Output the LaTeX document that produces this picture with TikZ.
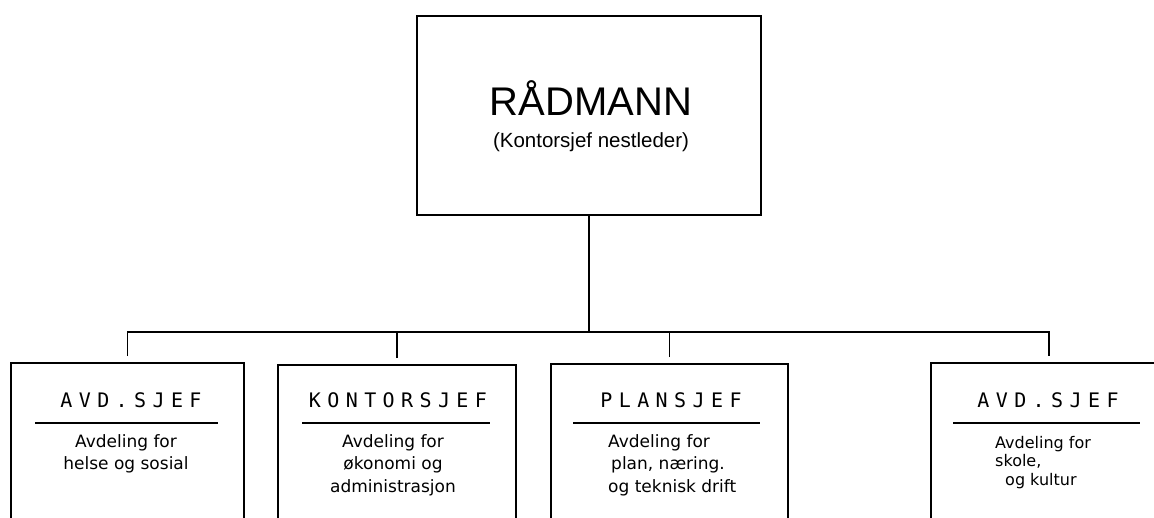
\documentclass[tikz,border=0pt]{standalone}
\usepackage{fontspec}
\setmainfont{Liberation Sans}
\newfontfamily\hdfont[LetterSpace=32]{DejaVu Sans Mono}
\newfontfamily\smfont{DejaVu Sans}
\begin{document}
\begin{tikzpicture}[x=1pt,y=-1pt,
  box/.style={draw,line width=1.8pt,rectangle,inner sep=0pt,anchor=north west,minimum height=200pt},
  conn/.style={line width=1.6pt},
  hd/.style={inner sep=0pt,font=\hdfont\fontsize{20}{22}\selectfont},
  rule/.style={line width=1.6pt},
  sm/.style={inner sep=0pt,align=center,font=\smfont\fontsize{17}{22.5}\selectfont},
  sml/.style={inner sep=0pt,align=left,anchor=north west,font=\smfont\fontsize{17}{22.5}\selectfont}]
\useasboundingbox (0,0) rectangle (1154,517);
\clip (0,0) rectangle (1154,517);
% top box
\node[box,minimum width=344pt,minimum height=199pt] (top) at (416,15) {};
\node[inner sep=0pt,font=\fontsize{40}{44}\selectfont] (t1) at (591,98) {RÅDMANN};
\node[inner sep=0pt,font=\fontsize{20.5}{24}\selectfont] (t2) at (591,142) {(Kontorsjef nestleder)};
% lower boxes
\node[box,minimum width=233pt] (b1) at (10,362) {};
\node[box,minimum width=238pt] (b2) at (277,364) {};
\node[box,minimum width=237pt] (b3) at (550,363) {};
\node[box,minimum width=236pt] (b4) at (930,362) {};
% connectors
\coordinate (bus) at (588,332);
\draw[conn] (top.south) -- (top.south |- bus);
\draw[conn] ([yshift=6pt]b1.north) -- (b1.north |- bus) -- (b4.north |- bus) -- ([yshift=6pt]b4.north);
\draw[conn] ([yshift=6pt]b2.north) -- (b2.north |- bus);
\draw[conn] ([yshift=6pt]b3.north) -- (b3.north |- bus);
% box 1
\node[hd] (h1) at (131,400) {AVD.SJEF};
\draw[rule] (35,423) -- (218,423);
\node[sm,anchor=north] (s1) at (126,434) {Avdeling for\\helse og sosial};
% box 2
\node[hd] (h2) at (398,400) {KONTORSJEF};
\draw[rule] (302,423) -- (490,423);
\node[sm,anchor=north] (s2) at (393,434) {Avdeling for\\økonomi og\\administrasjon};
% box 3
\node[hd] (h3) at (671,400) {PLANSJEF};
\draw[rule] (573,423) -- (760,423);
\node[sml] (s3) at (608,434) {Avdeling for\\\hspace*{3pt}plan, næring.\\og teknisk drift};
% box 4
\node[hd] (h4) at (1048,400) {AVD.SJEF};
\draw[rule] (953,423) -- (1140,423);
\node[sml,font=\smfont\fontsize{16}{18.5}\selectfont] (s4) at (995,436) {Avdeling for\\skole,\\\hspace*{10pt}og kultur};
\end{tikzpicture}
\end{document}
